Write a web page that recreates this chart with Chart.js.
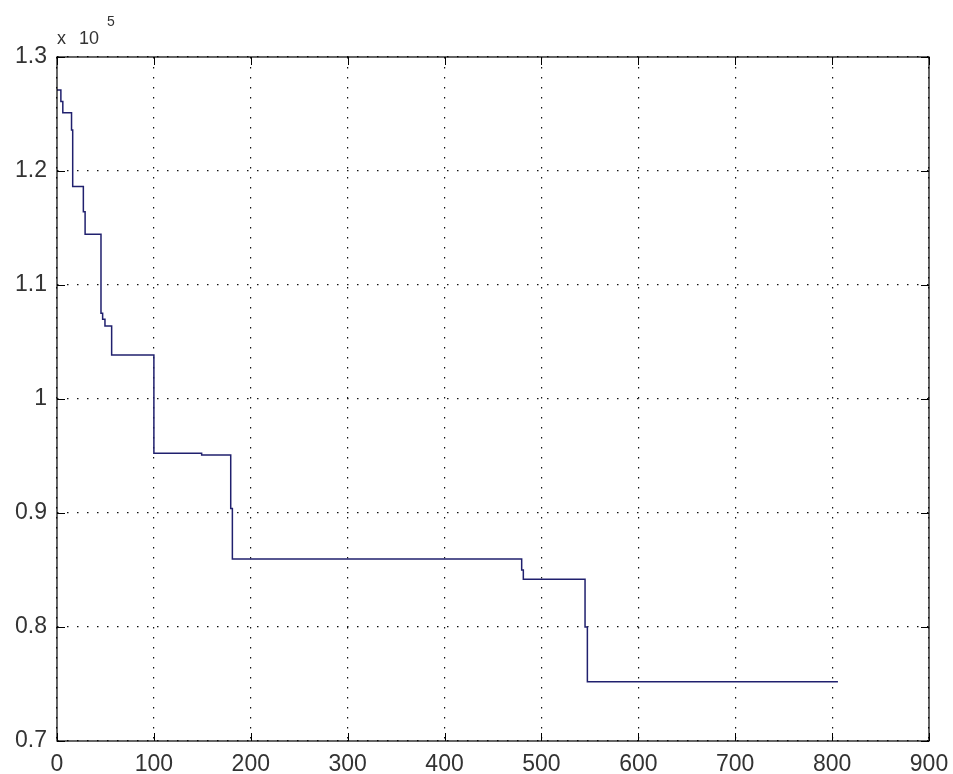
<!DOCTYPE html>
<html>
<head>
<meta charset="utf-8">
<script src="https://cdn.jsdelivr.net/npm/chart.js@4.4.1/dist/chart.umd.min.js"></script>
<style>
  html, body { margin: 0; padding: 0; background: #fff; }
  canvas { display: block; }
</style>
</head>
<body>
<canvas id="plot" width="953" height="774"></canvas>
<script>
// step points: the value y starts at x
const xValues = [0, 4, 6, 15, 16.2, 27.2, 29, 45.4, 47.1, 49.5, 56.4, 100, 149.3, 179.3, 181, 479.6, 481.3, 545, 547.4, 806];
const yValues = [127100, 126100, 125120, 123600, 118650, 116430, 114450, 107520, 106990, 106400, 103860, 95240, 95090, 90400, 85960, 85000, 84180, 80000, 75200, 75200];

const xTicks = [0, 100, 200, 300, 400, 500, 600, 700, 800, 900];
const yTicks = [70000, 80000, 90000, 100000, 110000, 120000, 130000];
const yTickLabels = ['0.7', '0.8', '0.9', '1', '1.1', '1.2', '1.3'];

const fontFamily = '"Liberation Sans", Arial, sans-serif';

// box round the axes, inner ticks on all sides and the "x 10^5" note
const matlabFrame = {
    id: 'matlabFrame',
    afterDraw(chart) {
        const { ctx, chartArea: a, scales } = chart;
        const tl = 8;
        ctx.save();
        ctx.strokeStyle = '#000';
        ctx.lineWidth = 1;
        ctx.beginPath();
        xTicks.forEach(v => {
            const px = Math.round(scales.x.getPixelForValue(v)) + 0.5;
            ctx.moveTo(px, a.bottom); ctx.lineTo(px, a.bottom - tl);
            ctx.moveTo(px, a.top); ctx.lineTo(px, a.top + tl);
        });
        yTicks.forEach(v => {
            const py = Math.round(scales.y.getPixelForValue(v)) + 0.5;
            ctx.moveTo(a.left, py); ctx.lineTo(a.left + tl, py);
            ctx.moveTo(a.right, py); ctx.lineTo(a.right - tl, py);
        });
        ctx.stroke();
        ctx.lineWidth = 1.2;
        ctx.strokeRect(a.left, a.top, a.right - a.left, a.bottom - a.top);

        ctx.fillStyle = '#333';
        ctx.textBaseline = 'alphabetic';
        ctx.font = '18px ' + fontFamily;
        ctx.fillText('x', a.left, 44);
        ctx.fillText('10', a.left + 22, 44);
        ctx.font = '14px ' + fontFamily;
        ctx.fillText('5', a.left + 50, 26);
        ctx.restore();
    }
};

new Chart(document.getElementById('plot'), {
    type: 'line',
    data: {
        datasets: [{
            data: xValues.map((x, i) => ({ x: x, y: yValues[i] })),
            borderColor: '#20206e',
            borderWidth: 1.5,
            pointRadius: 0,
            stepped: 'before',
            fill: false
        }]
    },
    options: {
        responsive: false,
        animation: false,
        layout: { padding: { top: 57, right: 24, left: 0, bottom: 0 } },
        plugins: {
            legend: { display: false },
            tooltip: { enabled: false }
        },
        scales: {
            x: {
                type: 'linear',
                min: 0,
                max: 900,
                afterBuildTicks: s => { s.ticks = xTicks.map(v => ({ value: v })); },
                afterFit: s => { s.height = 33; s.paddingLeft = 0; s.paddingRight = 0; },
                ticks: {
                    color: '#333',
                    font: { family: fontFamily, size: 23 },
                    padding: 10,
                    maxRotation: 0
                },
                grid: {
                    color: '#111',
                    lineWidth: 1.2,
                    drawTicks: false
                },
                border: { display: false, dash: [1.5, 8.5] }
            },
            y: {
                min: 70000,
                max: 130000,
                afterBuildTicks: s => { s.ticks = yTicks.map(v => ({ value: v })); },
                afterFit: s => { s.width = 57; s.paddingTop = 0; s.paddingBottom = 0; },
                ticks: {
                    color: '#333',
                    font: { family: fontFamily, size: 23 },
                    padding: 10,
                    callback: (v, i) => yTickLabels[i]
                },
                grid: {
                    color: '#111',
                    lineWidth: 1.2,
                    drawTicks: false
                },
                border: { display: false, dash: [1.5, 8.5] }
            }
        }
    },
    plugins: [matlabFrame]
});
</script>
</body>
</html>
